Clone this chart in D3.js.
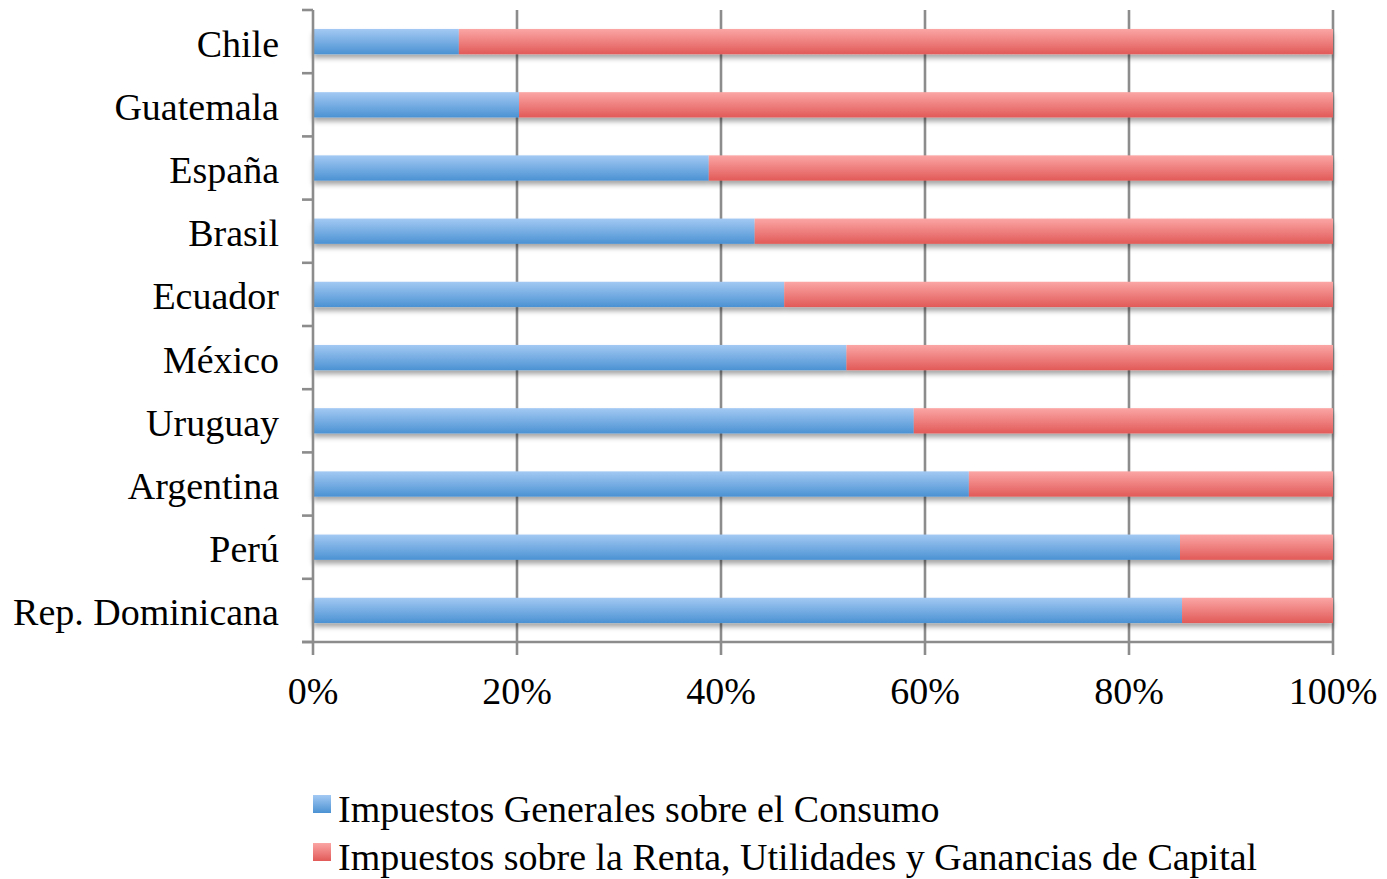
<!DOCTYPE html>
<html>
<head>
<meta charset="utf-8">
<script src="https://cdn.jsdelivr.net/npm/d3@7"></script>
<style>
  body { margin: 0; background: #fff; }
  text { font-family: "Liberation Serif", "Times New Roman", serif; fill: #000; }
</style>
</head>
<body>
<div id="chart"></div>
<script>
// ===== DATA =====
const countries = ["Chile","Guatemala","España","Brasil","Ecuador","México","Uruguay","Argentina","Perú","Rep. Dominicana"];
const consumo = [14.3, 20.2, 38.8, 43.3, 46.2, 52.3, 58.9, 64.3, 85.0, 85.2];
const renta = consumo.map(v => 100 - v);
const seriesNames = ["Impuestos Generales sobre el Consumo","Impuestos sobre la Renta, Utilidades y Ganancias de Capital"];
const xTicks = [0, 20, 40, 60, 80, 100];

// ===== SIZE =====
const width = 1387;
const height = 879;
const margin = { top: 10, right: 54, bottom: 237, left: 313 };
const innerW = width - margin.left - margin.right;
const innerH = height - margin.top - margin.bottom;

const svg = d3.select("#chart")
  .append("svg")
  .attr("width", width)
  .attr("height", height);

const defs = svg.append("defs");

function grad(id, top, bottom){
  const lg = defs.append("linearGradient")
    .attr("id", id)
    .attr("x1",0).attr("y1",0).attr("x2",0).attr("y2",1);
  lg.append("stop").attr("offset","0%").attr("stop-color",top);
  lg.append("stop").attr("offset","100%").attr("stop-color",bottom);
}
grad("gBlue", "#a3c9f3", "#4b92d3");
grad("gRed", "#fba6a5", "#e15a58");

const shadow = defs.append("filter")
  .attr("id","shadow")
  .attr("x","-5%").attr("y","-50%")
  .attr("width","110%").attr("height","220%");
shadow.append("feDropShadow")
  .attr("dx",0).attr("dy",4)
  .attr("stdDeviation",2.5)
  .attr("flood-color","#000")
  .attr("flood-opacity",0.35);

const g = svg.append("g")
  .attr("transform", `translate(${margin.left},${margin.top})`);

const x = d3.scaleLinear().domain([0,100]).range([0,innerW]);
const y = d3.scaleBand().domain(countries).range([0,innerH]).paddingInner(0.6).paddingOuter(0.3);
const yTickScale = d3.scaleLinear().domain([0,countries.length]).range([0,innerH]);

// gridlines
g.selectAll("line.grid")
  .data(xTicks.slice(1))
  .join("line")
  .attr("class","grid")
  .attr("x1",d=>x(d)).attr("x2",d=>x(d))
  .attr("y1",0).attr("y2",innerH)
  .attr("stroke","#8c8c8c")
  .attr("stroke-width",2.6);

// bars
const rows = countries.map((c,i)=>({ c, a: consumo[i], b: renta[i] }));

const barG = g.append("g").attr("filter","url(#shadow)");

barG.selectAll("rect.blue")
  .data(rows)
  .join("rect")
  .attr("class","blue")
  .attr("x",x(0))
  .attr("y",d=>y(d.c))
  .attr("width",d=>x(d.a)-x(0))
  .attr("height",y.bandwidth())
  .attr("fill","url(#gBlue)");

barG.selectAll("rect.red")
  .data(rows)
  .join("rect")
  .attr("class","red")
  .attr("x",d=>x(d.a))
  .attr("y",d=>y(d.c))
  .attr("width",d=>x(d.a+d.b)-x(d.a))
  .attr("height",y.bandwidth())
  .attr("fill","url(#gRed)");

// axes
const axisColor = "#8c8c8c";

g.append("line")
  .attr("x1",0).attr("x2",0)
  .attr("y1",0).attr("y2",innerH)
  .attr("stroke",axisColor).attr("stroke-width",2.6);

g.append("line")
  .attr("x1",-11).attr("x2",innerW)
  .attr("y1",innerH).attr("y2",innerH)
  .attr("stroke",axisColor).attr("stroke-width",2.6);

g.selectAll("line.ytick")
  .data(d3.range(countries.length+1))
  .join("line")
  .attr("class","ytick")
  .attr("x1",-11).attr("x2",0)
  .attr("y1",d=>yTickScale(d)).attr("y2",d=>yTickScale(d))
  .attr("stroke",axisColor).attr("stroke-width",2.6);

g.selectAll("line.xtick")
  .data(xTicks)
  .join("line")
  .attr("class","xtick")
  .attr("x1",d=>x(d)).attr("x2",d=>x(d))
  .attr("y1",innerH).attr("y2",innerH+13)
  .attr("stroke",axisColor).attr("stroke-width",2.6);

// labels
g.selectAll("text.ylab")
  .data(countries)
  .join("text")
  .attr("class","ylab")
  .attr("x",-34)
  .attr("y",d=>y(d)+y.bandwidth()/2+15)
  .attr("text-anchor","end")
  .style("font-size","38px")
  .text(d=>d);

g.selectAll("text.xlab")
  .data(xTicks)
  .join("text")
  .attr("class","xlab")
  .attr("x",d=>x(d))
  .attr("y",innerH+62)
  .attr("text-anchor","middle")
  .style("font-size","38px")
  .text(d=>d+"%");

// legend
const legend = svg.selectAll("g.legend")
  .data(seriesNames)
  .join("g")
  .attr("class","legend")
  .attr("transform",(d,i)=>`translate(313,${795 + i*48})`);

legend.append("rect")
  .attr("width",18).attr("height",18)
  .attr("fill",(d,i)=>i===0 ? "url(#gBlue)" : "url(#gRed)");

legend.append("text")
  .attr("x",25)
  .attr("y",27)
  .style("font-size","38px")
  .text(d=>d);
</script>
</body>
</html>
